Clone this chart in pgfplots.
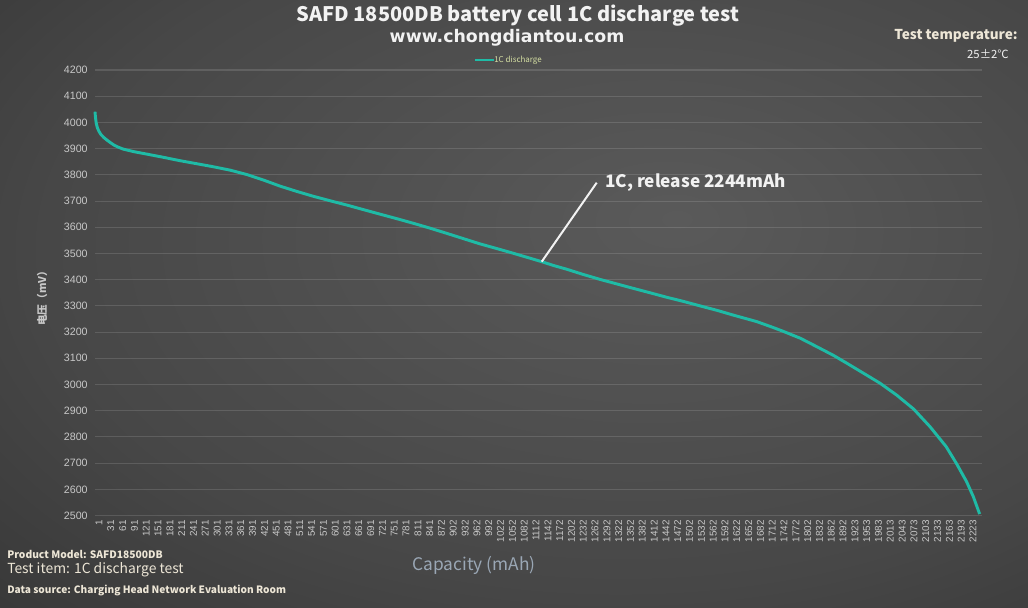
\documentclass[border=0pt]{standalone}
\usepackage{pgfplots}
\pgfplotsset{compat=1.18}
\usepackage{fontspec}
\setmainfont{Liberation Sans}
\newfontfamily\cjk{Noto Sans CJK SC}
\newfontfamily\wwwfont{DejaVu Sans}
\definecolor{lineteal}{HTML}{1FBBA6}
\definecolor{bgA}{HTML}{5A5A5A}
\definecolor{bgB}{HTML}{474747}
\definecolor{bgC}{HTML}{2C2C2C}
\definecolor{bgD}{HTML}{242424}
\definecolor{tickgray}{HTML}{C8C8C8}
\definecolor{titlec}{HTML}{F2F2F2}
\definecolor{creamc}{HTML}{EDE6D6}
\definecolor{capc}{HTML}{9AA7B5}
\definecolor{legc}{HTML}{D5DFA3}
\pgfdeclareradialshading{bgshade}{\pgfpoint{8bp}{7bp}}{color(0bp)=(bgA); color(28bp)=(bgB); color(52bp)=(bgC); color(80bp)=(bgD)}
\begin{document}
\begin{tikzpicture}
\begin{scope}[x=0.75pt,y=0.75pt]
\shade[shading=bgshade] (0,0) rectangle (1028,607);
\end{scope}
\begin{axis}[
  at={(71.25pt,68.55pt)}, anchor=south west, scale only axis,
  width=665.25pt, height=334.2pt,
  xmin=0, xmax=2253, ymin=2500, ymax=4200,
  ytick={2500,2600,...,4200},
  xtick={0,30,...,2220},
  xticklabels={1,31,61,91,121,151,181,211,241,271,301,331,361,391,421,451,481,511,541,571,601,631,661,691,721,751,781,811,841,872,902,932,962,992,1022,1052,1082,1112,1142,1172,1202,1232,1262,1292,1322,1352,1382,1412,1442,1472,1502,1532,1562,1592,1622,1652,1682,1712,1742,1772,1802,1832,1862,1892,1923,1953,1983,2013,2043,2073,2103,2133,2163,2193,2223},
  axis line style={draw=none},
  major tick length=0pt,
  ymajorgrids,
  grid style={draw=white, opacity=0.13, line width=0.8pt},
  tick label style={text=tickgray},
  yticklabel style={font=\fontsize{8}{9}\selectfont, xshift=-2pt},
  xticklabel style={rotate=90, anchor=east, font=\fontsize{7.4}{8}\selectfont, yshift=-3pt},
  /pgf/number format/assume math mode=true,
  /pgf/number format/1000 sep={},
  clip=false,
]
\addplot[lineteal, line width=2.2pt, line join=round] coordinates {
(0,4041) (1,4022) (3,3998) (6,3980) (10,3966) (15,3954) (22,3943) (30,3933) (40,3922) (50,3912) (60,3905) (72,3898) (100,3888) (132,3879) (170,3868) (216,3854) (260,3842) (300,3831) (343,3818) (386,3801) (430,3779) (470,3757) (512,3737) (555,3718) (600,3700) (639,3685) (680,3668) (724,3650) (766,3633) (809,3615) (850,3597) (893,3577) (935,3557) (977,3537) (1020,3519) (1062,3501) (1105,3482) (1134,3469) (1165,3454) (1198,3440) (1240,3420) (1283,3401) (1325,3384) (1367,3367) (1410,3350) (1452,3333) (1495,3317) (1537,3300) (1580,3283) (1621,3265) (1681,3240) (1720,3219) (1748,3203) (1791,3177) (1830,3147) (1876,3111) (1910,3081) (1950,3045) (1994,3005) (2036,2960) (2079,2907) (2121,2839) (2162,2763) (2188,2699) (2214,2629) (2231,2572) (2247,2506)
};
\end{axis}
\begin{scope}[x=0.75pt,y=0.75pt]
% titles
\node[text=titlec] at (518,591) {\cjk\bfseries\fontsize{15}{18}\selectfont SAFD 18500DB battery cell 1C discharge test};
\node[text=titlec] at (507,569) {\wwwfont\bfseries\fontsize{13}{15}\selectfont www.chongdiantou.com};
% legend
\draw[lineteal, line width=2pt] (475,547) -- (494,547);
\node[anchor=west, inner sep=0pt, text=legc] at (494,547) {\cjk\fontsize{6}{7}\selectfont 1C discharge};
% test temperature
\node[anchor=east, inner sep=0pt, text=creamc] at (1018,571) {\cjk\bfseries\fontsize{10.2}{12}\selectfont Test temperature:};
\node[anchor=east, inner sep=0pt, text=titlec] at (1009,553) {\cjk\fontsize{8.5}{10}\selectfont 25±2℃};
% y label
\node[rotate=90, text=tickgray] at (42,311) {\cjk\bfseries\fontsize{8}{9}\selectfont 电压（mV）};
% x label
\node[text=capc] at (474,42) {\cjk\fontsize{13}{15}\selectfont Capacity (mAh)};
% bottom notes
\node[anchor=west, inner sep=0pt, text=creamc] at (7,53) {\cjk\bfseries\fontsize{7.7}{10}\selectfont Product Model: SAFD18500DB};
\node[anchor=west, inner sep=0pt, text=creamc] at (7,37) {\cjk\fontsize{10.4}{12}\selectfont Test item: 1C discharge test};
\node[anchor=west, inner sep=0pt, text=creamc] at (7,17) {\cjk\bfseries\fontsize{7.6}{10}\selectfont Data source: Charging Head Network Evaluation Room};
% annotation
\draw[white!90!gray, line width=1.5pt] (541.7,345.3) -- (596.7,424.3);
\node[anchor=west, inner sep=0pt, text=titlec] at (605,424) {\cjk\bfseries\fontsize{12.9}{16}\selectfont 1C, release 2244mAh};
\end{scope}
\end{tikzpicture}
\end{document}
